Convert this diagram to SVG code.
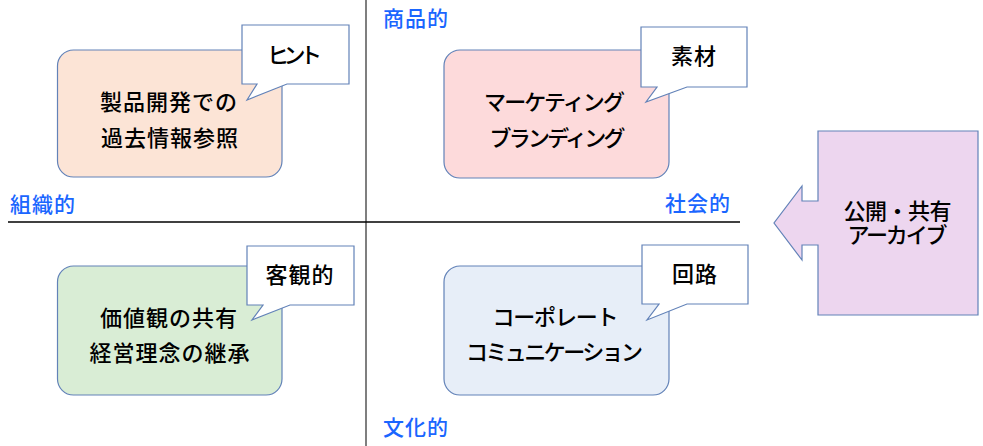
<svg xmlns="http://www.w3.org/2000/svg" width="983" height="446" viewBox="0 0 983 446">
<style>
.box{stroke:#6282B8;stroke-width:1.2}
.call{fill:#ffffff;stroke:#6282B8;stroke-width:1.2}
.t{font-family:"Noto Sans CJK JP","Noto Sans",sans-serif;font-size:22px;font-weight:500;fill:#000;text-anchor:middle;letter-spacing:1px}
.ax{font-family:"Noto Sans CJK JP","Noto Sans",sans-serif;font-size:21px;font-weight:500;fill:#1A66FF;letter-spacing:1px}
</style>
<rect width="983" height="446" fill="#ffffff"/>
<g id="axes">
<line x1="366" y1="0" x2="366" y2="446" stroke="#555" stroke-width="1.5"/>
<line x1="8" y1="222" x2="740" y2="222" stroke="#000" stroke-width="1.5"/>
</g>
<g id="labels">
<text class="ax" x="383" y="26">商品的</text>
<text class="ax" x="10" y="212">組織的</text>
<text class="ax" x="665" y="211">社会的</text>
<text class="ax" x="383" y="435">文化的</text>
</g>
<g id="node-tl">
<rect class="box" x="57.5" y="50" width="224.5" height="127" rx="16" fill="#FCE4D6"/>
<polygon class="call" points="242,25 349,25 349,84 287,84 247,100 257,84 242,84"/>
<text class="t" x="295" y="63" textLength="56" lengthAdjust="spacing">ヒント</text>
<text class="t" x="169" y="110">製品開発での</text>
<text class="t" x="170" y="146">過去情報参照</text>
</g>
<g id="node-tr">
<rect class="box" x="444" y="50" width="225" height="128" rx="16" fill="#FDDADB"/>
<polygon class="call" points="641,27 747,27 747,87 687,87 646,102 657,87 641,87"/>
<text class="t" x="694" y="64">素材</text>
<text class="t" x="555" y="110" textLength="142" lengthAdjust="spacing">マーケティング</text>
<text class="t" x="558" y="146" textLength="137" lengthAdjust="spacing">ブランディング</text>
</g>
<g id="node-bl">
<rect class="box" x="57.5" y="266" width="224.5" height="129" rx="16" fill="#D9EDD5"/>
<polygon class="call" points="247,246 354,246 354,305 290,305 252,320 263,305 247,305"/>
<text class="t" x="300" y="283">客観的</text>
<text class="t" x="169" y="326">価値観の共有</text>
<text class="t" x="170" y="361">経営理念の継承</text>
</g>
<g id="node-br">
<rect class="box" x="444" y="266" width="225" height="129" rx="16" fill="#E7EEF8"/>
<polygon class="call" points="642,245 748,245 748,304 687,304 647,320 659,304 642,304"/>
<text class="t" x="695" y="282">回路</text>
<text class="t" x="556" y="325" textLength="127" lengthAdjust="spacing">コーポレート</text>
<text class="t" x="555" y="360" textLength="178" lengthAdjust="spacing">コミュニケーション</text>
</g>
<g id="node-archive">
<polygon class="box" fill="#EDD6EF" points="818,131 978,131 978,315 818,315 818,245 802,245 802,260 774,223 802,186 802,201 818,201"/>
<text class="t" x="898" y="219" textLength="109" lengthAdjust="spacing">公開・共有</text>
<text class="t" x="898" y="243" textLength="101" lengthAdjust="spacing">アーカイブ</text>
</g>
</svg>
